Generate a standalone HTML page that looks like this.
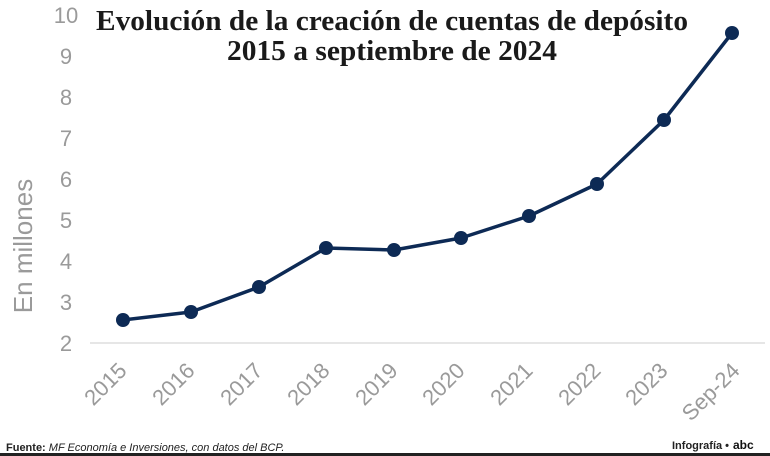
<!DOCTYPE html>
<html><head><meta charset="utf-8"><style>
body{margin:0;background:#fff;width:770px;height:456px;overflow:hidden;}
svg{display:block}
</style></head><body>
<svg width="770" height="456" xmlns="http://www.w3.org/2000/svg">
<rect width="770" height="456" fill="#fff"/>
<line x1="90" y1="343" x2="765" y2="343" stroke="#ddd" stroke-width="1.5"/>
<g font-family="Liberation Sans, sans-serif" font-size="22" fill="#9a9a9a" text-anchor="middle">
<text x="66" y="351">2</text><text x="66" y="310">3</text><text x="66" y="269">4</text>
<text x="66" y="228">5</text><text x="66" y="187">6</text><text x="66" y="146">7</text>
<text x="66" y="105">8</text><text x="66" y="64">9</text><text x="66" y="23">10</text>
</g>
<text transform="translate(32,246) rotate(-90)" font-family="Liberation Sans, sans-serif" font-size="26" fill="#9a9a9a" text-anchor="middle">En millones</text>
<g font-family="Liberation Sans, sans-serif" font-size="22" fill="#9a9a9a" text-anchor="end">
<text transform="translate(128,372) rotate(-45)">2015</text>
<text transform="translate(196,372) rotate(-45)">2016</text>
<text transform="translate(264,372) rotate(-45)">2017</text>
<text transform="translate(331,372) rotate(-45)">2018</text>
<text transform="translate(399,372) rotate(-45)">2019</text>
<text transform="translate(466,372) rotate(-45)">2020</text>
<text transform="translate(534,372) rotate(-45)">2021</text>
<text transform="translate(602,372) rotate(-45)">2022</text>
<text transform="translate(669,372) rotate(-45)">2023</text>
<text transform="translate(741,372) rotate(-45)">Sep-24</text>
</g>
<polyline fill="none" stroke="#0d2a55" stroke-width="3.5" stroke-linejoin="round" points="123,320 191,312 259,287 326,248 394,250 461,238 529,216 597,184 664,120 732,33"/>
<g fill="#0d2a55">
<circle cx="123" cy="320" r="7"/><circle cx="191" cy="312" r="7"/><circle cx="259" cy="287" r="7"/>
<circle cx="326" cy="248" r="7"/><circle cx="394" cy="250" r="7"/><circle cx="461" cy="238" r="7"/>
<circle cx="529" cy="216" r="7"/><circle cx="597" cy="184" r="7"/><circle cx="664" cy="120" r="7"/>
<circle cx="732" cy="33" r="7"/>
</g>
<g font-family="Liberation Serif, serif" font-weight="bold" font-size="29" fill="#1a1a1a" text-anchor="middle">
<text x="392" y="30" textLength="592" lengthAdjust="spacingAndGlyphs">Evolución de la creación de cuentas de depósito</text>
<text x="392" y="60" textLength="330" lengthAdjust="spacingAndGlyphs">2015 a septiembre de 2024</text>
</g>
<text x="6" y="451" font-family="Liberation Sans Narrow, Liberation Sans, sans-serif" font-size="11" fill="#222"><tspan font-weight="bold">Fuente:</tspan> <tspan font-style="italic">MF Economía e Inversiones, con datos del BCP.</tspan></text>
<text x="672" y="449" font-family="Liberation Sans Narrow, Liberation Sans, sans-serif" font-size="11" font-weight="bold" fill="#222">Infografía •</text>
<text x="733" y="449" font-family="Liberation Sans, sans-serif" font-size="12" font-weight="bold" fill="#111">abc</text>
<rect x="0" y="453" width="770" height="3" fill="#222"/>
</svg>
</body></html>
